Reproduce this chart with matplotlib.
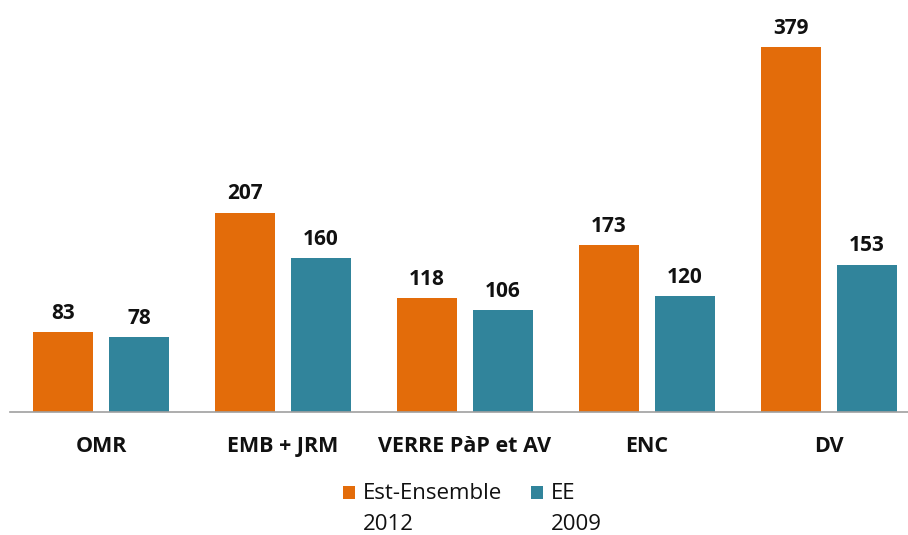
import matplotlib
matplotlib.use("Agg")
import matplotlib.pyplot as plt
import numpy as np
from matplotlib.patches import Rectangle
from matplotlib.legend_handler import HandlerPatch

categories = ["OMR", "EMB + JRM", "VERRE PàP et AV", "ENC", "DV"]
est_ensemble_2012 = [83, 207, 118, 173, 379]
ee_2009 = [78, 160, 106, 120, 153]
series_labels = ["Est-Ensemble\n2012", "EE\n2009"]

ORANGE = "#E36C0A"
TEAL = "#31849B"

plt.rcParams['font.family'] = ['Open Sans', 'DejaVu Sans']

W, H = 908, 535
fig = plt.figure(figsize=(W / 100, H / 100), dpi=100)
# axes: left 10px, baseline at y=412px, group spacing 182px
left_px, base_px, spacing = 10, 412, 182
ymax = 400
px_per_unit = 365 / 379
ax_h = ymax * px_per_unit
ax = fig.add_axes([left_px / W, (H - base_px) / H, 5 * spacing / W, ax_h / H])

x = np.arange(len(categories))
bw = 60 / spacing
off = 38 / spacing
b1 = ax.bar(x - off, est_ensemble_2012, bw, color=ORANGE, label=series_labels[0])
b2 = ax.bar(x + off, ee_2009, bw, color=TEAL, label=series_labels[1])

for bars in (b1, b2):
    for r in bars:
        ax.annotate(f"{int(r.get_height())}", (r.get_x() + r.get_width() / 2, r.get_height()),
                    xytext=(0, 6), textcoords="offset points", ha="center", va="bottom",
                    fontsize=15, fontweight="bold", color="#111111")

ax.set_xlim(-0.5, 4.5)
ax.set_ylim(0, ymax)
ax.set_xticks(x)
ax.set_xticklabels(categories, fontsize=15.5, fontweight="bold", color="#111111")
ax.tick_params(axis="x", length=0, pad=17)
ax.set_yticks([])
for s in ["top", "right", "left"]:
    ax.spines[s].set_visible(False)
ax.spines["bottom"].set_color("#A0A0A0")
ax.spines["bottom"].set_linewidth(1.2)

fs = 16
lsp = 1.62


def make_patch(legend, orig_handle, xdescent, ydescent, width, height, fontsize):
    side = 0.55 * fontsize
    shift = 0.75 * fontsize
    return Rectangle((xdescent + (width - side) / 2, ydescent + shift + (height - side) / 2),
                     side, side)


leg = fig.legend(handles=[b1.patches[0], b2.patches[0]], labels=series_labels, loc="center",
                 bbox_to_anchor=(472 / W, 1 - 509 / H), ncol=2, frameon=False,
                 fontsize=fs, handlelength=0.6, handletextpad=0.3, columnspacing=1.3,
                 handler_map={Rectangle: HandlerPatch(patch_func=make_patch)})
for t in leg.get_texts():
    t.set_linespacing(lsp)
    t.set_color("#111111")

fig.savefig("out.png", dpi=100)
